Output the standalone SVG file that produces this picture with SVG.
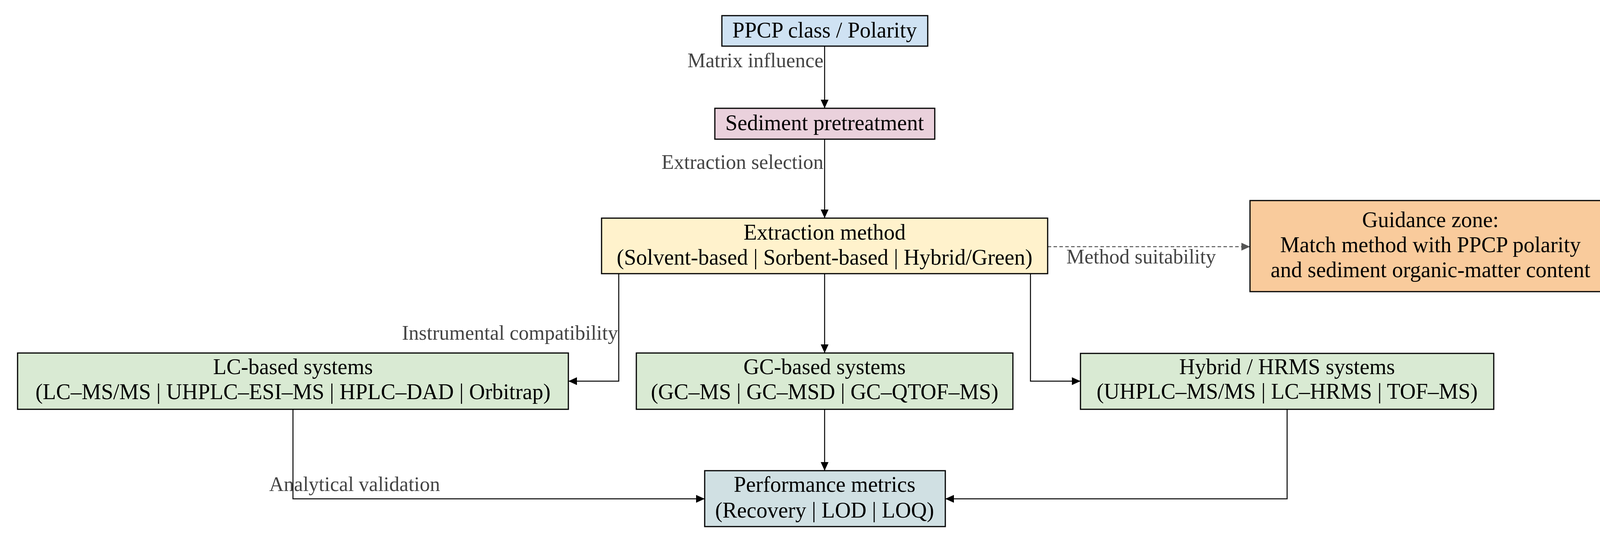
<svg xmlns="http://www.w3.org/2000/svg" width="4163" height="1389" viewBox="0 0 4163 1389">
<style>
.n{stroke:#000;stroke-width:3}
.t{font-family:"Liberation Serif","Times New Roman",serif;font-size:56px;fill:#000;text-anchor:middle}
.l{font-family:"Liberation Serif","Times New Roman",serif;font-size:52px;fill:#444}
.c{fill:none;stroke:#000;stroke-width:2.5}
</style>
<defs>
<marker id="a" viewBox="0 0 10 10" refX="10" refY="5" markerWidth="7" markerHeight="7" markerUnits="userSpaceOnUse" orient="auto" style="overflow:visible">
<path d="M0,0L10,5L0,10z" fill="#000" transform="scale(2.2) translate(-5.5,-2.7)"/>
</marker>
<marker id="ag" viewBox="0 0 22 20" refX="22" refY="10" markerWidth="22" markerHeight="20" markerUnits="userSpaceOnUse" orient="auto">
<path d="M0,0L22,10L0,20z" fill="#555"/>
</marker>
<marker id="ab" viewBox="0 0 22 20" refX="22" refY="10" markerWidth="22" markerHeight="20" markerUnits="userSpaceOnUse" orient="auto">
<path d="M0,0L22,10L0,20z" fill="#000"/>
</marker>
</defs>
<rect width="4163" height="1389" fill="#fff"/>
<g id="connectors">
<path class="c" d="M2111,118V277" marker-end="url(#ab)"/>
<path class="c" d="M2111,356V558" marker-end="url(#ab)"/>
<path class="c" d="M1584,700V975H1455" marker-end="url(#ab)"/>
<path class="c" d="M2111,700V903" marker-end="url(#ab)"/>
<path class="c" d="M2638,700V975H2766" marker-end="url(#ab)"/>
<path class="c" d="M750,1047V1276H1804" marker-end="url(#ab)"/>
<path class="c" d="M2111,1047V1204" marker-end="url(#ab)"/>
<path class="c" d="M3295,1047V1276H2420" marker-end="url(#ab)"/>
<path d="M2682,631H3200" fill="none" stroke="#555" stroke-width="2.5" stroke-dasharray="9,6" marker-end="url(#ag)"/>
<text class="l" x="2108" y="172" text-anchor="end">Matrix influence</text>
<text class="l" x="2108" y="432" text-anchor="end">Extraction selection</text>
<text class="l" x="1582" y="869" text-anchor="end">Instrumental compatibility</text>
<text class="l" x="2730" y="674">Method suitability</text>
<text class="l" x="689" y="1256">Analytical validation</text>
</g>
<g id="ppcp"><rect class="n" x="1848" y="40" width="527" height="78" fill="#cfe2f3"/><text class="t" x="2111" y="96">PPCP class / Polarity</text></g>
<g id="sediment"><rect class="n" x="1830" y="277" width="563" height="79" fill="#ead1dc"/><text class="t" x="2111" y="333">Sediment pretreatment</text></g>
<g id="extraction"><rect class="n" x="1540" y="558" width="1142" height="142" fill="#fff2cc"/><text class="t" x="2111" y="613">Extraction method</text><text class="t" x="2111" y="677">(Solvent-based | Sorbent-based | Hybrid/Green)</text></g>
<g id="guidance"><path class="n" d="M3200,513H4110L4125,528V746H3200Z" fill="#f9cb9c"/><path d="M4110,513V528H4125" fill="none" stroke="#000" stroke-width="2"/><text class="t" x="3662" y="581">Guidance zone:</text><text class="t" x="3662" y="645">Match method with PPCP polarity</text><text class="t" x="3662" y="709">and sediment organic-matter content</text></g>
<g id="lc"><rect class="n" x="45" y="903" width="1410" height="144" fill="#d9ead3"/><text class="t" x="750" y="957">LC-based systems</text><text class="t" x="750" y="1021">(LC–MS/MS | UHPLC–ESI–MS | HPLC–DAD | Orbitrap)</text></g>
<g id="gc"><rect class="n" x="1629" y="903" width="964" height="144" fill="#d9ead3"/><text class="t" x="2111" y="957">GC-based systems</text><text class="t" x="2111" y="1021">(GC–MS | GC–MSD | GC–QTOF–MS)</text></g>
<g id="hybrid"><rect class="n" x="2766" y="904" width="1058" height="143" fill="#d9ead3"/><text class="t" x="3295" y="957">Hybrid / HRMS systems</text><text class="t" x="3295" y="1020">(UHPLC–MS/MS | LC–HRMS | TOF–MS)</text></g>
<g id="performance"><rect class="n" x="1804" y="1204" width="616" height="143" fill="#d0e0e3"/><text class="t" x="2111" y="1258">Performance metrics</text><text class="t" x="2111" y="1324">(Recovery | LOD | LOQ)</text></g>
</svg>
